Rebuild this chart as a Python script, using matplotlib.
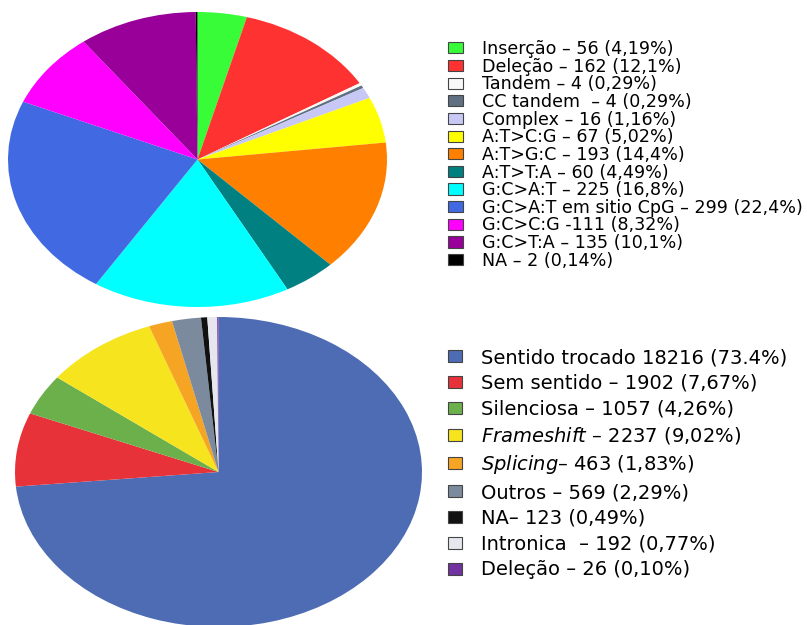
import matplotlib.pyplot as plt
from matplotlib.patches import Patch

# tipos de mutacao (grafico de cima)
mut_labels = [
    "Inserção – 56 (4,19%)",
    "Deleção – 162 (12,1%)",
    "Tandem – 4 (0,29%)",
    "CC tandem  – 4 (0,29%)",
    "Complex – 16 (1,16%)",
    "A:T>C:G – 67 (5,02%)",
    "A:T>G:C – 193 (14,4%)",
    "A:T>T:A – 60 (4,49%)",
    "G:C>A:T – 225 (16,8%)",
    "G:C>A:T em sitio CpG – 299 (22,4%)",
    "G:C>C:G -111 (8,32%)",
    "G:C>T:A – 135 (10,1%)",
    "NA – 2 (0,14%)",
]
mut_counts = [56, 162, 4, 4, 16, 67, 193, 60, 225, 299, 111, 135, 2]
mut_colors = ["#38fc38", "#ff3232", "#f8f8f8", "#5f7080", "#c8c8f6", "#ffff00",
              "#ff8000", "#008080", "#00ffff", "#4169e1", "#ff00ff", "#990099",
              "#000000"]

# efeito da mutacao (grafico de baixo)
eff_labels = [
    "Sentido trocado 18216 (73.4%)",
    "Sem sentido – 1902 (7,67%)",
    "Silenciosa – 1057 (4,26%)",
    r"$\mathit{Frameshift}$ – 2237 (9,02%)",
    r"$\mathit{Splicing}$– 463 (1,83%)",
    "Outros – 569 (2,29%)",
    "NA– 123 (0,49%)",
    "Intronica  – 192 (0,77%)",
    "Deleção – 26 (0,10%)",
]
eff_counts = [18216, 1902, 1057, 2237, 463, 569, 123, 192, 26]
eff_colors = ["#4e6cb4", "#e8323a", "#6cb04c", "#f6e41e", "#f5a424",
              "#7b8b9d", "#111111", "#e6e6ee", "#7232a0"]

W, H = 807, 625
fig = plt.figure(figsize=(W / 100, H / 100), dpi=100)


def px_axes(x0, y0, x1, y1):
    # axes placed by pixel box (origin top-left)
    return fig.add_axes([x0 / W, 1 - y1 / H, (x1 - x0) / W, (y1 - y0) / H])


ax1 = px_axes(8, 12, 387, 307)
ax1.pie(mut_counts, colors=mut_colors, startangle=90, counterclock=False,
        wedgeprops=dict(linewidth=0))
ax1.set_aspect('auto')
ax1.set_xlim(-1, 1)
ax1.set_ylim(-1, 1)

ax2 = px_axes(15, 317, 422, 627)
ax2.pie(eff_counts, colors=eff_colors, startangle=90, counterclock=False,
        wedgeprops=dict(linewidth=0))
ax2.set_aspect('auto')
ax2.set_xlim(-1, 1)
ax2.set_ylim(-1, 1)

h1 = [Patch(facecolor=c, edgecolor="#444444", linewidth=0.8) for c in mut_colors]
fig.legend(h1, mut_labels, loc='upper left', bbox_to_anchor=(448 / W, 1 - 40 / H),
           frameon=False, fontsize=12.6, labelspacing=-0.02, handlelength=0.85,
           handleheight=0.6, handletextpad=1.1, borderpad=0, borderaxespad=0)

h2 = [Patch(facecolor=c, edgecolor="#444444", linewidth=0.8) for c in eff_colors]
fig.legend(h2, eff_labels, loc='upper left', bbox_to_anchor=(448 / W, 1 - 348 / H),
           frameon=False, fontsize=14, labelspacing=0.35, handlelength=0.72,
           handleheight=0.57, handletextpad=1.0, borderpad=0, borderaxespad=0)

fig.savefig("out.png", dpi=100)
